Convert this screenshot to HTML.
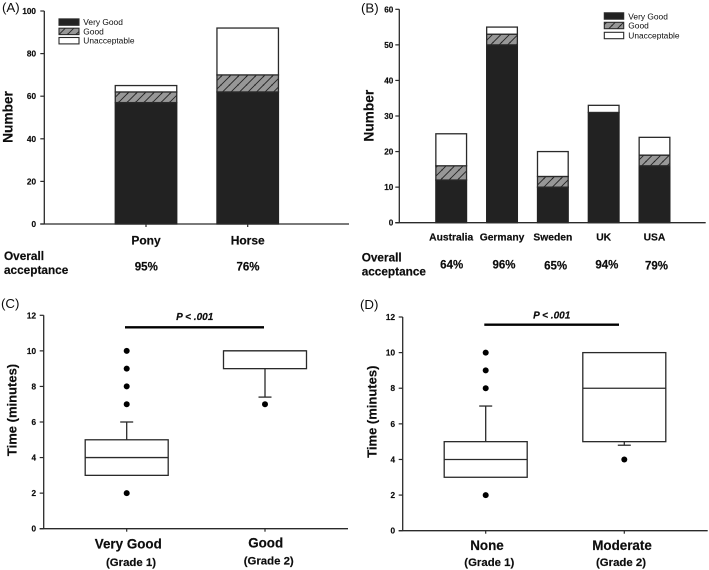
<!DOCTYPE html>
<html lang="en">
<head>
<meta charset="utf-8">
<title>Acceptance and time charts</title>
<style>
html,body{margin:0;padding:0;background:#fff;width:709px;height:570px;overflow:hidden}
svg{display:block;filter:blur(0.35px)}
text{font-family:"Liberation Sans",sans-serif;fill:#0d0d0d}
text[font-weight="bold"]{stroke:#0d0d0d;stroke-width:0.18px}
</style>
</head>
<body>
<svg id="figure" xmlns="http://www.w3.org/2000/svg" width="709" height="570" viewBox="0 0 709 570">
<defs>
<pattern id="hatch" patternUnits="userSpaceOnUse" width="8.5" height="8.5">
<rect width="8.5" height="8.5" fill="#979797"></rect>
<path d="M-2 2.25L2.25 -2M0 8.5L8.5 0M6.25 10.5L10.5 6.25" stroke="#222" stroke-width="0.9"></path>
</pattern>
</defs>
</svg>
<script>
// Panel A data
const categoriesA = ['Pony', 'Horse'];
const veryGoodA = [57, 62];
const goodA = [5, 8];
const unacceptableA = [3, 22];
const acceptanceA = ['95%', '76%'];
const ticksA = [0, 20, 40, 60, 80, 100];

// Panel B data
const categoriesB = ['Australia', 'Germany', 'Sweden', 'UK', 'USA'];
const veryGoodB = [12, 50, 10, 31, 16];
const goodB = [4, 3, 3, 0, 3];
const unacceptableB = [9, 2, 7, 2, 5];
const acceptanceB = ['64%', '96%', '65%', '94%', '79%'];
const ticksB = [0, 10, 20, 30, 40, 50, 60];

// Panel C data
const ticksBox = [0, 2, 4, 6, 8, 10, 12];
const q1C = [3, 9];
const medianC = [4, 10];
const q3C = [5, 10];
const whiskerC = [6, 7.4];
const outliersC = [[10, 9, 8, 7, 2], [7]];

// Panel D data
const q1D = [3, 5];
const medianD = [4, 8];
const q3D = [5, 10];
const whiskerD = [7, 4.8];
const outliersD = [[10, 9, 8, 2], [4]];

const legendLabels = ['Very Good', 'Good', 'Unacceptable'];

const svg = document.getElementById('figure');
const NS = 'http://www.w3.org/2000/svg';
const INK = '#2a2a2a';

function mk(tag, props, parent) {
  const e = document.createElementNS(NS, tag);
  for (const k in props) e.setAttribute(k, props[k]);
  (parent || svg).appendChild(e);
  return e;
}
function label(str, x, y, size, opts, parent) {
  const o = opts || {};
  const t = mk('text', {
    x: x, y: y, 'font-size': size,
    'font-weight': o.weight || 'bold',
    'text-anchor': o.anchor || 'middle'
  }, parent);
  if (o.italic) t.setAttribute('font-style', 'italic');
  if (o.rotate) t.setAttribute('transform', 'rotate(-90 ' + x + ' ' + y + ')');
  t.textContent = str;
  return t;
}
function line(x1, y1, x2, y2, w, parent) {
  return mk('line', { x1: x1, y1: y1, x2: x2, y2: y2, stroke: INK, 'stroke-width': w || 1 }, parent);
}
function linear(d0, d1, r0, r1) {
  return function (v) { return r0 + (v - d0) / (d1 - d0) * (r1 - r0); };
}

function drawAxes(panelName, g, y, ticks, axisX, rightX, tickLabelX, centers) {
  const yAxis = line(axisX, y(ticks[0]), axisX, y(ticks[ticks.length - 1]), 1.3, g);
  
  
  const xAxis = line(axisX - 4, y(ticks[0]), rightX, y(ticks[0]), 1.3, g);
  
  
  ticks.forEach(function (v) {
    const tick = line(axisX - 4, y(v), axisX, y(v), 1.2, g);
    
    
    const tl = label(String(v), tickLabelX, y(v) + 3, 8.2, { anchor: 'end' }, g);
    
    
  });
  centers.forEach(function (c) {
    const tick = line(c, y(ticks[0]), c, y(ticks[0]) + 3, 1.2, g);
    
    
  });
}

function drawStacks(panelName, g, y, centers, width, vg, gd, un) {
  centers.forEach(function (c, i) {
    const x = c - width / 2;
    const a = mk('rect', { x: x, y: y(vg[i]), width: width, height: y(0) - y(vg[i]), fill: '#222', stroke: '#222', 'stroke-width': 1.3 }, g);
    
    
    if (gd[i] > 0) {
      const b = mk('rect', { x: x, y: y(vg[i] + gd[i]), width: width, height: y(vg[i]) - y(vg[i] + gd[i]), fill: 'url(#hatch)', stroke: INK, 'stroke-width': 1.3 }, g);
      
      
    }
    const top = vg[i] + gd[i];
    const d = mk('rect', { x: x, y: y(top + un[i]), width: width, height: y(top) - y(top + un[i]), fill: '#fff', stroke: INK, 'stroke-width': 1.3 }, g);
    
    
  });
}

function drawLegend(panelName, g, x0, w, h, textX, tops, baselines) {
  const fills = ['#222', 'url(#hatch)', '#fff'];
  legendLabels.forEach(function (name, i) {
    const s = mk('rect', { x: x0, y: tops[i], width: w, height: h, fill: fills[i], stroke: INK, 'stroke-width': 1.1 }, g);
    
    
    const t = label(name, textX, baselines[i], 8.4, { anchor: 'start', weight: 'normal' }, g);
    
    
  });
}

function drawBoxes(panelName, g, y, centers, boxW, q1, med, q3, whisk, outliers) {
  centers.forEach(function (c, i) {
    const edge = whisk[i] > q3[i] ? q3[i] : q1[i];
    const w = line(c, y(edge), c, y(whisk[i]), 1.3, g);
    
    
    const cap = line(c - 6.5, y(whisk[i]), c + 6.5, y(whisk[i]), 1.3, g);
    
    
    const box = mk('rect', { x: c - boxW / 2, y: y(q3[i]), width: boxW, height: y(q1[i]) - y(q3[i]), fill: '#fff', stroke: INK, 'stroke-width': 1.3 }, g);
    
    
    const m = line(c - boxW / 2, y(med[i]), c + boxW / 2, y(med[i]), 1.3, g);
    
    
    outliers[i].forEach(function (v) {
      const dot = mk('circle', { cx: c, cy: y(v), r: 3, fill: '#000' }, g);
      
      
    });
  });
}

/* ---------- Panel A ---------- */
const gA = mk('g', {});


const yA = linear(0, 100, 224, 11);
const centersA = categoriesA.map(function (_, i) { return linear(0, 1, 146, 247.7)(i); });
drawStacks('panel-a', gA, yA, centersA, 61.5, veryGoodA, goodA, unacceptableA);
drawAxes('panel-a', gA, yA, ticksA, 44.3, 349, 36, centersA);
drawLegend('panel-a', gA, 59, 20, 6.4, 83.3, [18.9, 28.2, 37.5], [25, 34.3, 43.7]);
categoriesA.forEach(function (c, i) {
  const t = label(c, centersA[i], 244.5, 12, {}, gA);
  
  
  const p = label(acceptanceA[i], centersA[i] + 0.3, 270.7, 11.5, {}, gA);
  
  
});
const letterA = label('(A)', 2, 12, 13.3, { anchor: 'start', weight: 'normal' }, gA);


const titleA = label('Number', 12.3, 117, 13.7, { rotate: true }, gA);


const overallA = label('Overall', 4, 260, 11.8, { anchor: 'start' }, gA);


const acceptA = label('acceptance', 4, 274, 11.8, { anchor: 'start' }, gA);



/* ---------- Panel B ---------- */
const gB = mk('g', {});


const yB = linear(0, 60, 222.7, 9.3);
const centersB = categoriesB.map(function (_, i) { return linear(0, 4, 451.2, 654.5)(i); });
drawStacks('panel-b', gB, yB, centersB, 30.7, veryGoodB, goodB, unacceptableB);
drawAxes('panel-b', gB, yB, ticksB, 399.3, 705.7, 393.3, []);
drawLegend('panel-b', gB, 604.3, 19.4, 6.4, 628.3, [12.8, 22.3, 32.3], [19.3, 28.7, 38.3]);
const pctOffsets = [0.5, 2, 2.8, 3.2, 2];
const pctBaselines = [268.7, 268.4, 269.3, 268.4, 269.3];
categoriesB.forEach(function (c, i) {
  const t = label(c, centersB[i], 240.5, 10.3, {}, gB);
  
  
  const p = label(acceptanceB[i], centersB[i] + pctOffsets[i], pctBaselines[i], 11.5, {}, gB);
  
  
});
const letterB = label('(B)', 361, 12.5, 13.3, { anchor: 'start', weight: 'normal' }, gB);


const titleB = label('Number', 373.3, 115.7, 13.7, { rotate: true }, gB);


const overallB = label('Overall', 361.7, 261.7, 11.8, { anchor: 'start' }, gB);


const acceptB = label('acceptance', 361.7, 275.3, 11.8, { anchor: 'start' }, gB);



/* ---------- Panel C ---------- */
const gC = mk('g', {});


const yC = linear(0, 12, 528.7, 315.3);
const centersC = [126.7, 265];
drawBoxes('panel-c', gC, yC, centersC, 83, q1C, medianC, q3C, whiskerC, outliersC);
drawAxes('panel-c', gC, yC, ticksBox, 43.7, 348, 36, centersC);
const sigC = line(125, 327.3, 264, 327.3, 2.3, gC);
sigC.setAttribute('stroke', '#000');


const pC = label('P < .001', 194.7, 320, 10, { italic: true }, gC);


const letterC = label('(C)', 1, 308, 13.3, { anchor: 'start', weight: 'normal' }, gC);


const titleC = label('Time (minutes)', 16.3, 410, 13, { rotate: true }, gC);


const c1 = label('Very Good', 128.3, 548.3, 13.4, {}, gC);


const c2 = label('Good', 265.7, 547.7, 13.4, {}, gC);


const c3 = label('(Grade 1)', 131, 566, 11.4, {}, gC);


const c4 = label('(Grade 2)', 268.7, 564.5, 11.4, {}, gC);



/* ---------- Panel D ---------- */
const gD = mk('g', {});


const yD = linear(0, 12, 530.7, 317);
const centersD = [485.7, 624.3];
drawBoxes('panel-d', gD, yD, centersD, 83, q1D, medianD, q3D, whiskerD, outliersD);
drawAxes('panel-d', gD, yD, ticksBox, 402.7, 707.7, 395, centersD);
const sigD = line(484.3, 324.7, 619, 324.7, 2.3, gD);
sigD.setAttribute('stroke', '#000');


const pD = label('P < .001', 551.7, 318.7, 10, { italic: true }, gD);


const letterD = label('(D)', 360, 309, 13.3, { anchor: 'start', weight: 'normal' }, gD);


const titleD = label('Time (minutes)', 376.5, 411.7, 13, { rotate: true }, gD);


const d1 = label('None', 487, 550, 13.4, {}, gD);


const d2 = label('Moderate', 622, 550, 13.4, {}, gD);


const d3 = label('(Grade 1)', 489.3, 566, 11.4, {}, gD);


const d4 = label('(Grade 2)', 621, 566, 11.4, {}, gD);


</script>
</body>
</html>
